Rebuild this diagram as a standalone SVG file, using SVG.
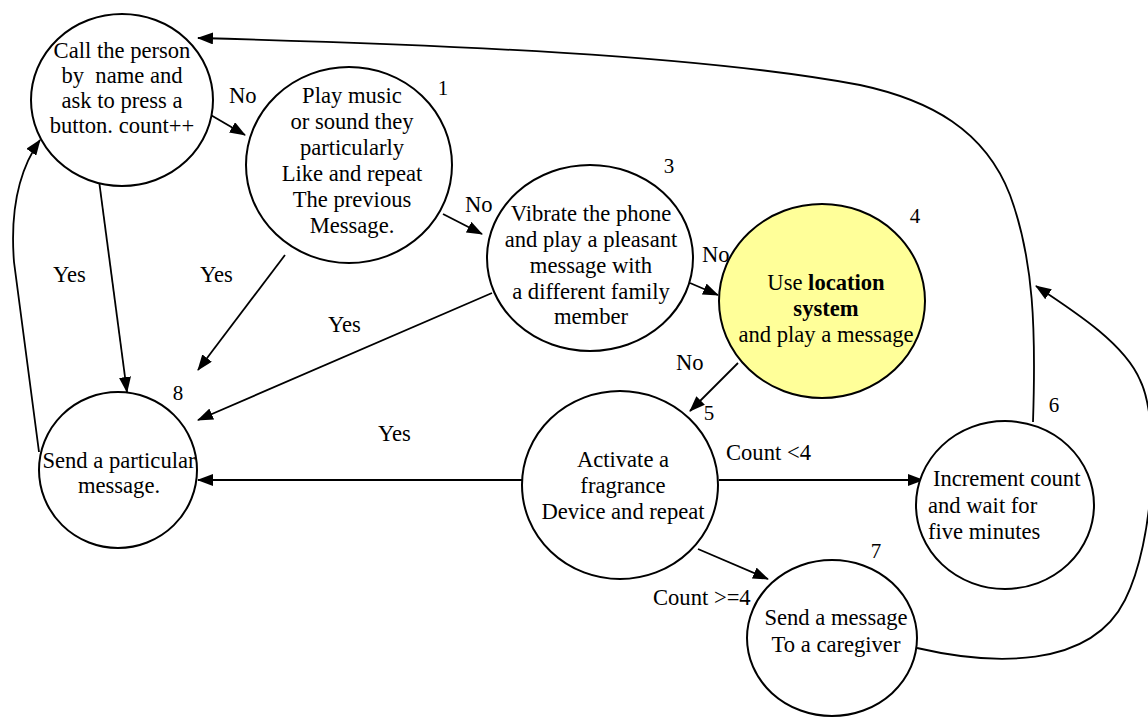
<svg xmlns="http://www.w3.org/2000/svg" width="1148" height="717" viewBox="0 0 1148 717" font-family="'Liberation Serif', 'DejaVu Serif', serif">
<style>
  .node { fill: #ffffff; stroke: #000000; stroke-width: 2; }
  .hl { fill: #ffff99; }
  text { font-family: 'Liberation Serif', 'DejaVu Serif', serif; font-size: 22.6px; fill: #000; }
  .t { text-anchor: middle; }
  .tl { text-anchor: start; }
  .num { font-size: 21px; text-anchor: middle; }
  .lbl { text-anchor: start; }
  .edge { fill: none; stroke: #000; stroke-width: 1.8; marker-end: url(#arr); }
</style>
<defs>
  <marker id="arr" markerUnits="userSpaceOnUse" markerWidth="16" markerHeight="12" refX="15" refY="6" orient="auto">
    <path d="M0,0 L16,6 L0,12 z" fill="#000"/>
  </marker>
</defs>
<rect x="0" y="0" width="1148" height="717" fill="#ffffff"/>

<g id="connectors">
  <line class="edge" x1="197" y1="107" x2="245" y2="135"/>
  <line class="edge" x1="443" y1="214" x2="482" y2="234"/>
  <line class="edge" x1="690" y1="283" x2="718" y2="295"/>
  <line class="edge" x1="738" y1="363" x2="690" y2="411"/>
  <line class="edge" x1="98" y1="173" x2="127" y2="392"/>
  <path class="edge" d="M39,452 L14,262 Q8,185 40,140"/>
  <line class="edge" x1="285" y1="255" x2="198" y2="370"/>
  <line class="edge" x1="492" y1="293" x2="198" y2="420"/>
  <line class="edge" x1="522" y1="480" x2="198" y2="480"/>
  <line class="edge" x1="719" y1="480" x2="923" y2="480"/>
  <line class="edge" x1="698" y1="549" x2="768" y2="579"/>
  <path class="edge" d="M1033,422 C1036,330 1034,260 1010,195 C985,130 930,100 860,85 C700,55 450,45 198,38"/>
  <path class="edge" d="M917,648 C990,665 1090,670 1125,600 C1155,540 1160,420 1140,380 C1125,345 1080,315 1036,286"/>
</g>

<g id="node0">
  <ellipse class="node" cx="122" cy="100" rx="91" ry="86"/>
  <text class="t" x="122" y="58">Call the person</text>
  <text class="t" x="122" y="83" xml:space="preserve">by  name and</text>
  <text class="t" x="122" y="108">ask to press a</text>
  <text class="t" x="122" y="133">button. count++</text>
</g>

<g id="node1">
  <ellipse class="node" cx="349" cy="165" rx="103" ry="98"/>
  <text class="t" x="352" y="103">Play music</text>
  <text class="t" x="352" y="129">or sound they</text>
  <text class="t" x="352" y="155">particularly</text>
  <text class="t" x="352" y="181">Like and repeat</text>
  <text class="t" x="352" y="207">The previous</text>
  <text class="t" x="352" y="233">Message.</text>
  <text class="num" x="443" y="95">1</text>
</g>

<g id="node3">
  <ellipse class="node" cx="590" cy="258" rx="103" ry="93"/>
  <text class="t" x="591" y="221">Vibrate the phone</text>
  <text class="t" x="591" y="247">and play a pleasant</text>
  <text class="t" x="591" y="273">message with</text>
  <text class="t" x="591" y="299">a different family</text>
  <text class="t" x="591" y="324">member</text>
  <text class="num" x="669" y="173">3</text>
</g>

<g id="node4">
  <ellipse class="node hl" cx="822" cy="301" rx="103" ry="97"/>
  <text class="t" x="826" y="290">Use <tspan font-weight="bold">location</tspan></text>
  <text class="t" x="826" y="316" font-weight="bold">system</text>
  <text class="t" x="826" y="342">and play a message</text>
  <text class="num" x="915" y="223">4</text>
</g>

<g id="node5">
  <ellipse class="node" cx="620" cy="485" rx="98" ry="94"/>
  <text class="t" x="623" y="467">Activate a</text>
  <text class="t" x="623" y="493">fragrance</text>
  <text class="t" x="623" y="519">Device and repeat</text>
  <text class="num" x="709" y="420">5</text>
</g>

<g id="node6">
  <ellipse class="node" cx="1005" cy="505" rx="89" ry="84"/>
  <text class="tl" x="933" y="486">Increment count</text>
  <text class="tl" x="928" y="513">and wait for</text>
  <text class="tl" x="928" y="539">five minutes</text>
  <text class="num" x="1054" y="412">6</text>
</g>

<g id="node7">
  <ellipse class="node" cx="832" cy="638" rx="85" ry="78"/>
  <text class="t" x="836" y="625">Send a message</text>
  <text class="t" x="836" y="652">To a caregiver</text>
  <text class="num" x="876" y="558">7</text>
</g>

<g id="node8">
  <ellipse class="node" cx="118" cy="470" rx="79" ry="78"/>
  <text class="t" x="119" y="468">Send a particular</text>
  <text class="t" x="119" y="493">message.</text>
  <text class="num" x="178" y="400">8</text>
</g>

<g id="labels">
  <text class="lbl" x="229" y="103">No</text>
  <text class="lbl" x="465" y="212">No</text>
  <text class="lbl" x="702" y="262">No</text>
  <text class="lbl" x="676" y="370">No</text>
  <text class="lbl" x="53" y="282">Yes</text>
  <text class="lbl" x="200" y="282">Yes</text>
  <text class="lbl" x="328" y="332">Yes</text>
  <text class="lbl" x="378" y="441">Yes</text>
  <text class="lbl" x="726" y="460">Count &lt;4</text>
  <text class="lbl" x="653" y="605">Count &gt;=4</text>
</g>
</svg>
